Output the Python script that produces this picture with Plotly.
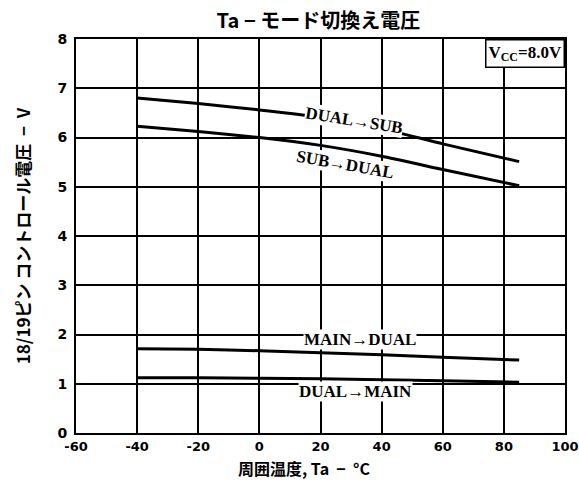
import plotly.graph_objects as go

# Data
temp = [-40, -20, 0, 20, 40, 60, 85]
dual_to_sub = [6.80, 6.69, 6.56, 6.41, 6.18, 5.87, 5.51]
sub_to_dual = [6.23, 6.12, 6.00, 5.84, 5.62, 5.35, 5.02]
main_to_dual = [1.71, 1.70, 1.67, 1.63, 1.59, 1.54, 1.48]
dual_to_main = [1.12, 1.12, 1.11, 1.10, 1.08, 1.06, 1.03]

x_ticks = [-60, -40, -20, 0, 20, 40, 60, 80, 100]
y_ticks = [0, 1, 2, 3, 4, 5, 6, 7, 8]

fig = go.Figure()
for ys in [dual_to_sub, sub_to_dual, main_to_dual, dual_to_main]:
    fig.add_trace(go.Scatter(x=temp, y=ys, mode="lines",
                             line=dict(color="black", width=3, shape="spline", smoothing=0.5),
                             showlegend=False, hoverinfo="skip"))

serif = "Liberation Serif, DejaVu Serif, serif"
labels = [
    ("DUAL→SUB", 31, 6.34, 9),
    ("SUB→DUAL", 28, 5.45, 10),
    ("MAIN→DUAL", 33, 1.89, 0),
    ("DUAL→MAIN", 31.5, 0.85, 0),
]
for txt, x, y, ang in labels:
    fig.add_annotation(x=x, y=y, text=txt, showarrow=False, textangle=ang,
                       font=dict(family=serif, size=17, color="black", weight="bold"),
                       bgcolor="white", borderpad=0)

fig.add_annotation(x=100, y=8, xref="x", yref="y", xanchor="right", yanchor="top",
                   text="V<sub>CC</sub>=8.0V", showarrow=False,
                   font=dict(family=serif, size=17, color="black", weight="bold"),
                   bgcolor="white", bordercolor="black", borderwidth=1.5, borderpad=2)

# axis titles as paper annotations
fig.add_annotation(xref="paper", yref="paper", x=-0.11, y=0.5, xanchor="center", yanchor="middle",
                   text="18/19ピン コントロール電圧  −  V", textangle=-90, showarrow=False,
                   font=dict(family="Noto Sans CJK JP", size=17, color="black", weight="bold"))
fig.add_annotation(xref="paper", yref="paper", x=0.468, y=-0.09, xanchor="center", yanchor="middle",
                   text="周囲温度, Ta  −  °C", showarrow=False,
                   font=dict(family="Noto Sans CJK JP", size=16, color="black", weight="bold"))

fig.update_layout(
    width=579, height=484,
    margin=dict(l=76, r=14, t=39, b=51),
    paper_bgcolor="white", plot_bgcolor="white",
    title=dict(text="Ta − モード切換え電圧", x=0.55, xanchor="center", y=0.972, yanchor="top",
               font=dict(family="Noto Sans CJK JP", size=20, color="black", weight="bold")),
    font=dict(color="black"),
)
fig.update_xaxes(range=[-60, 100], tickvals=x_ticks, ticktext=[str(v) for v in x_ticks],
                 showgrid=True, gridcolor="black", gridwidth=1.5, zeroline=False,
                 showline=True, linecolor="black", linewidth=2, mirror=True, ticks="",
                 ticklabeloverflow="allow", automargin=False,
                 tickfont=dict(family="DejaVu Sans", size=13, color="black", weight="bold"))
fig.update_yaxes(range=[0, 8], tickvals=y_ticks, ticktext=[str(v) for v in y_ticks],
                 showgrid=True, gridcolor="black", gridwidth=1.5, zeroline=False,
                 showline=True, linecolor="black", linewidth=2, mirror=True, ticks="",
                 ticklabeloverflow="allow", automargin=False, ticklabelstandoff=4,
                 tickfont=dict(family="DejaVu Sans", size=14, color="black", weight="bold"))

fig.write_html("out.html", config={"displayModeBar": False},
               post_script="document.body.style.margin='0';document.body.style.overflow='hidden';")
